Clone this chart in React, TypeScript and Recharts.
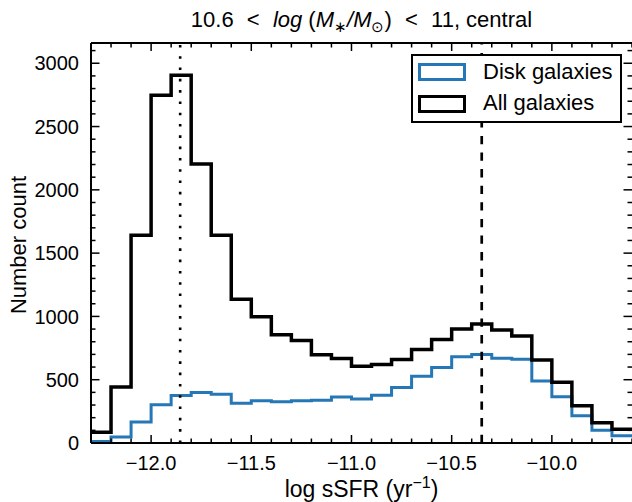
import { ComposedChart, Legend, Line, ReferenceLine, XAxis, YAxis } from 'recharts';

// left edges of the 0.1 dex bins, plus the closing edge
const binStarts = [
  -12.3, -12.2, -12.1, -12.0, -11.9, -11.8, -11.7, -11.6, -11.5, -11.4, -11.3, -11.2, -11.1, -11.0,
  -10.9, -10.8, -10.7, -10.6, -10.5, -10.4, -10.3, -10.2, -10.1, -10.0, -9.9, -9.8, -9.7,
];
const binEnd = -9.6;

const allCounts = [
  85, 443, 1642, 2747, 2905, 2204, 1642, 1135, 997, 855, 810, 697, 668, 607,
  620, 660, 739, 818, 900, 940, 892, 845, 655, 480, 295, 160, 108,
];
const diskCounts = [
  12, 48, 166, 302, 375, 399, 385, 314, 333, 325, 333, 338, 364, 348,
  377, 438, 528, 597, 681, 700, 670, 662, 490, 365, 215, 100, 58,
];

const xTicks = [
  -12.3, -12.2, -12.1, -12.0, -11.9, -11.8, -11.7, -11.6, -11.5, -11.4, -11.3, -11.2, -11.1, -11.0,
  -10.9, -10.8, -10.7, -10.6, -10.5, -10.4, -10.3, -10.2, -10.1, -10.0, -9.9, -9.8, -9.7, -9.6,
];
const xMajorTicks = [-12.0, -11.5, -11.0, -10.5, -10.0];
const yTicks = [
  0, 100, 200, 300, 400, 500, 600, 700, 800, 900, 1000, 1100, 1200, 1300, 1400, 1500, 1600,
  1700, 1800, 1900, 2000, 2100, 2200, 2300, 2400, 2500, 2600, 2700, 2800, 2900, 3000, 3100,
];
const yMajorTicks = [0, 500, 1000, 1500, 2000, 2500, 3000];

const xDomain = [-12.3, -9.6];
const yDomain = [0, 3160];
const passiveMedian = -11.855;
const starFormingMedian = -10.35;

const BLUE = '#2677b5';
const FONT = '"Liberation Sans", Arial, Helvetica, sans-serif';
const PLOT = { left: 91, right: 632, top: 43, bottom: 443 };

const legendItems = [
  { label: 'Disk galaxies', color: BLUE, width: 3 },
  { label: 'All galaxies', color: '#000', width: 3.5 },
];

const data = [
  ...binStarts.map((x, i) => ({ x, all: allCounts[i], disk: diskCounts[i] })),
  { x: binEnd, all: allCounts[allCounts.length - 1], disk: diskCounts[diskCounts.length - 1] },
];

const minus = (v: number, digits: number) => v.toFixed(digits).replace('-', '\u2212');

function XTick({ x, payload }: any) {
  const v = payload.value;
  const major = xMajorTicks.some((t) => Math.abs(t - v) < 1e-6);
  const len = major ? 8 : 4.5;
  return (
    <g>
      <line x1={x} x2={x} y1={PLOT.bottom} y2={PLOT.bottom - len} stroke="#000" strokeWidth={1.5} />
      <line x1={x} x2={x} y1={PLOT.top} y2={PLOT.top + len} stroke="#000" strokeWidth={1.5} />
      {major && (
        <text x={x} y={470} textAnchor="middle" fontSize={20} fontFamily={FONT} fill="#000">
          {minus(v, 1)}
        </text>
      )}
    </g>
  );
}

function YTick({ y, payload }: any) {
  const v = payload.value;
  const major = yMajorTicks.includes(v);
  const len = major ? 8.5 : 4.5;
  return (
    <g>
      <line x1={PLOT.left} x2={PLOT.left + len} y1={y} y2={y} stroke="#000" strokeWidth={1.5} />
      <line x1={PLOT.right} x2={PLOT.right - len} y1={y} y2={y} stroke="#000" strokeWidth={1.5} />
      {major && (
        <text x={79} y={y} dy="0.355em" textAnchor="end" fontSize={20} fontFamily={FONT} fill="#000">
          {v}
        </text>
      )}
    </g>
  );
}

function XAxisTitle() {
  return (
    <text x={361.5} y={497} textAnchor="middle" fontSize={23} fontFamily={FONT} fill="#000">
      log sSFR (yr
      <tspan dy={-9} fontSize={16}>{'\u22121'}</tspan>
      <tspan dy={9}>)</tspan>
    </text>
  );
}

function YAxisTitle() {
  return (
    <text
      transform="translate(25.5, 245) rotate(-90)"
      textAnchor="middle"
      fontSize={22}
      fontFamily={FONT}
      fill="#000"
    >
      Number count
    </text>
  );
}

function LegendBox() {
  return (
    <div
      style={{
        position: 'relative',
        width: 211,
        height: 69,
        boxSizing: 'border-box',
        border: '2px solid #000',
        background: '#fff',
        fontFamily: FONT,
        fontSize: 22,
        color: '#000',
      }}
    >
      {legendItems.map((item, i) => (
        <div key={item.label} style={{ position: 'absolute', left: 0, top: 7 + i * 31.6, height: 18, width: '100%' }}>
          <div
            style={{
              position: 'absolute',
              left: 5.5,
              top: 0,
              width: 48,
              height: 18,
              boxSizing: 'border-box',
              border: `${item.width}px solid ${item.color}`,
              background: '#fff',
            }}
          />
          <span style={{ position: 'absolute', left: 70.5, top: -3.5, lineHeight: '24px', whiteSpace: 'nowrap' }}>
            {item.label}
          </span>
        </div>
      ))}
    </div>
  );
}

export default function App() {
  return (
    <div style={{ position: 'absolute', left: 0, top: 0, width: 632, height: 502, overflow: 'hidden', background: '#fff' }}>
      <div
        style={{
          position: 'absolute',
          left: 90,
          width: 543,
          top: 8,
          textAlign: 'center',
          fontFamily: FONT,
          fontSize: 22,
          lineHeight: '24px',
          whiteSpace: 'nowrap',
          color: '#000',
        }}
      >
        10.6<span style={{ margin: '0 0.6em' }}>&lt;</span>
        <i>log</i> (<i>M</i>
        <span style={{ fontSize: '0.7em', verticalAlign: '-0.3em' }}>{'\u2217'}</span>
        <i>/M</i>
        <span style={{ fontSize: '0.7em', verticalAlign: '-0.3em' }}>{'\u2299'}</span>)
        <span style={{ margin: '0 0.6em' }}>&lt;</span>11, central
      </div>
      <ComposedChart width={632} height={502} data={data} margin={{ top: 43, right: 0, bottom: 0, left: 0 }}>
        <XAxis
          dataKey="x"
          type="number"
          domain={xDomain}
          allowDataOverflow
          ticks={xTicks}
          interval={0}
          tick={<XTick />}
          tickLine={false}
          tickSize={0}
          tickMargin={0}
          height={59}
          axisLine={{ stroke: '#000', strokeWidth: 2 }}
          label={{ content: XAxisTitle }}
        />
        <YAxis
          type="number"
          domain={yDomain}
          allowDataOverflow
          ticks={yTicks}
          interval={0}
          tick={<YTick />}
          tickLine={false}
          tickSize={0}
          tickMargin={0}
          width={91}
          axisLine={{ stroke: '#000', strokeWidth: 2 }}
          label={{ content: YAxisTitle }}
        />
        <ReferenceLine y={yDomain[1]} stroke="#000" strokeWidth={2} />
        <Line
          type="stepAfter"
          dataKey="disk"
          stroke={BLUE}
          strokeWidth={3}
          strokeLinejoin="miter"
          dot={false}
          activeDot={false}
          isAnimationActive={false}
        />
        <Line
          type="stepAfter"
          dataKey="all"
          stroke="#000"
          strokeWidth={3.5}
          strokeLinejoin="miter"
          dot={false}
          activeDot={false}
          isAnimationActive={false}
        />
        <ReferenceLine x={passiveMedian} stroke="#000" strokeWidth={2.6} strokeDasharray="2.6 8.7" />
        <ReferenceLine x={starFormingMedian} stroke="#000" strokeWidth={2.7} strokeDasharray="8.3 8.3" />
        <Legend
          layout="horizontal"
          verticalAlign="middle"
          align="center"
          content={() => <LegendBox />}
          wrapperStyle={{ left: 410.5, top: 54, width: 211, height: 69 }}
        />
      </ComposedChart>
    </div>
  );
}
